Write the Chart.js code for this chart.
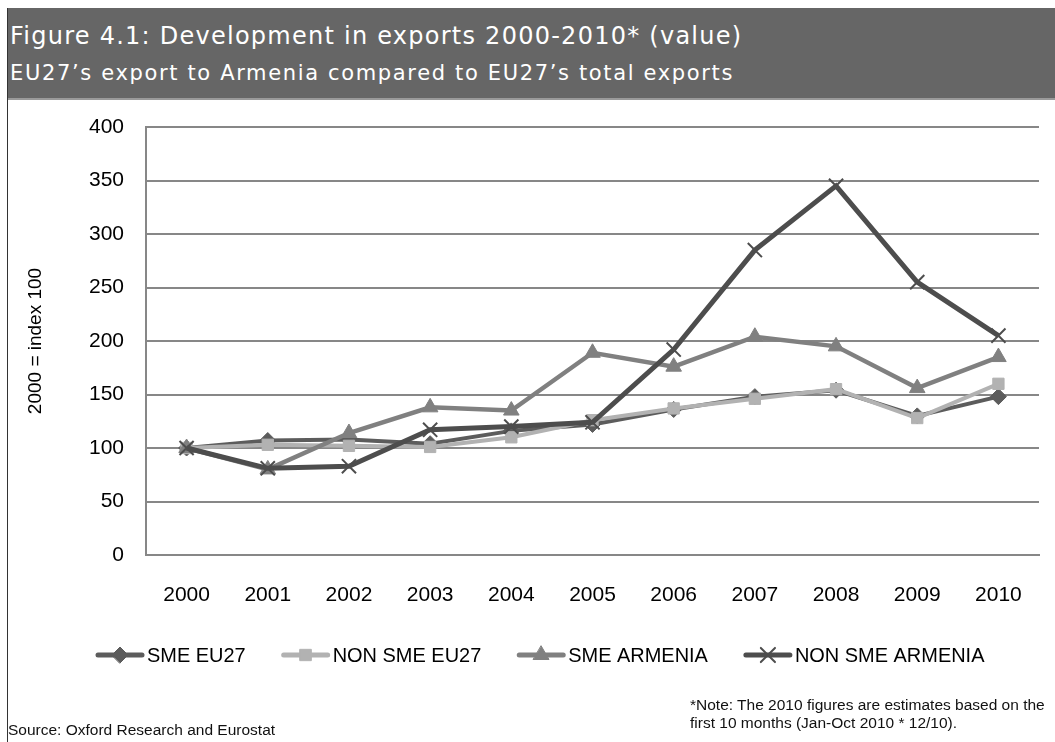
<!DOCTYPE html>
<html lang="en">
<head>
  <meta charset="UTF-8" />
  <title>Figure 4.1 - Development in exports 2000-2010</title>
  <script src="https://cdn.jsdelivr.net/npm/chart.js"></script>
  <style>
    html, body { margin: 0; padding: 0; background: #fff; }
    body { width: 1055px; height: 742px; position: relative; overflow: hidden; font-family: 'Liberation Sans', Arial, sans-serif; }
    #chart { position: absolute; left: 0; top: 0; }
    .header {
      position: absolute; left: 8px; top: 8px; right: 0; height: 90px;
      background: #666666; border-bottom: 2px solid #9a9a9a;
      color: #fff; font-family: 'DejaVu Sans', Verdana, sans-serif;
    }
    .header .t1 { position: absolute; left: 2px; top: 14px; font-size: 24px; letter-spacing: 1.25px; white-space: nowrap; }
    .header .t2 { position: absolute; left: 2px; top: 53px; font-size: 21px; letter-spacing: 1.65px; white-space: nowrap; }
    .frame { position: absolute; left: 7px; top: 8px; width: 1px; height: 734px; background: #333; }
    .source { position: absolute; left: 8px; top: 721px; font-size: 15.5px; color: #111; white-space: nowrap; }
    .note { position: absolute; left: 690px; top: 696px; font-size: 15.5px; line-height: 18px; color: #111; white-space: nowrap; }
  </style>
</head>
<body>
<canvas id="chart" width="1055" height="742"></canvas>
<div class="frame"></div>
<div class="header">
  <div class="t1">Figure 4.1: Development in exports 2000-2010* (value)</div>
  <div class="t2">EU27’s export to Armenia compared to EU27’s total exports</div>
</div>
<div class="note">*Note: The 2010 figures are estimates based on the<br>first 10 months (Jan-Oct 2010 * 12/10).</div>
<div class="source">Source: Oxford Research and Eurostat</div>

<script>
  // data (2000 = index 100)
  const years = ['2000', '2001', '2002', '2003', '2004', '2005', '2006', '2007', '2008', '2009', '2010'];
  const smeEu27 = [100, 107, 108, 104, 116, 122, 136, 148, 154, 130, 148];
  const nonSmeEu27 = [100, 103, 102, 101, 110, 126, 137, 146, 155, 128, 160];
  const smeArmenia = [100, 80, 114, 138, 135, 189, 176, 204, 195, 156, 185];
  const nonSmeArmenia = [100, 81, 83, 117, 120, 124, 192, 285, 345, 255, 205];
  const seriesNames = ['SME EU27', 'NON SME EU27', 'SME ARMENIA', 'NON SME ARMENIA'];
  const yTicks = [0, 50, 100, 150, 200, 250, 300, 350, 400];

  const gridGray = '#878787';
  const tickFont = { family: "'Liberation Sans', Arial, sans-serif", size: 21 };

  function drawMarker(ctx, ds, x, y) {
    const opts = {
      pointStyle: ds.pointStyle,
      radius: ds.pointRadius,
      borderWidth: ds.pointBorderWidth
    };
    ctx.save();
    ctx.fillStyle = ds.pointBackgroundColor;
    ctx.strokeStyle = ds.pointBorderColor;
    ctx.lineWidth = ds.pointBorderWidth;
    Chart.helpers.drawPoint(ctx, opts, x, y);
    ctx.restore();
  }

  // legend: line with marker in the middle, text a bit narrow like the original
  const lineLegend = {
    id: 'lineLegend',
    afterDraw(chart) {
      const ctx = chart.ctx;
      const y = 655;
      const lineLen = 48;
      const squeeze = 0.95;
      let x = 96;
      ctx.save();
      ctx.font = "21px 'Liberation Sans', Arial, sans-serif";
      ctx.textBaseline = 'middle';
      chart.data.datasets.forEach(ds => {
        ctx.strokeStyle = ds.borderColor;
        ctx.lineWidth = 5;
        ctx.lineCap = 'round';
        ctx.beginPath();
        ctx.moveTo(x + 2, y);
        ctx.lineTo(x + lineLen - 2, y);
        ctx.stroke();
        drawMarker(ctx, ds, x + lineLen / 2, y);
        const tx = x + lineLen + 3;
        ctx.save();
        ctx.translate(tx, y + 1);
        ctx.scale(squeeze, 1);
        ctx.fillStyle = '#000';
        ctx.fillText(ds.label, 0, 0);
        ctx.restore();
        x = tx + ctx.measureText(ds.label).width * squeeze + 36;
      });
      ctx.restore();
    }
  };

  function series(label, values, color, style, radius, order, width) {
    return {
      label: label,
      data: values,
      borderColor: color,
      backgroundColor: color,
      borderWidth: width,
      pointStyle: style,
      pointRadius: radius,
      pointHoverRadius: radius,
      pointBackgroundColor: color,
      pointBorderColor: color,
      pointBorderWidth: style === 'crossRot' ? 2 : 1,
      tension: 0,
      order: order
    };
  }

  new Chart(document.getElementById('chart'), {
    type: 'line',
    data: {
      labels: years,
      datasets: [
        series(seriesNames[0], smeEu27, '#5c5c5c', 'rectRot', 8, 4, 4),
        series(seriesNames[1], nonSmeEu27, '#b2b2b2', 'rect', 8, 3, 4),
        series(seriesNames[2], smeArmenia, '#808080', 'triangle', 9, 2, 4.5),
        series(seriesNames[3], nonSmeArmenia, '#4d4d4d', 'crossRot', 10, 1, 5)
      ]
    },
    options: {
      responsive: false,
      animation: false,
      devicePixelRatio: 1,
      layout: { padding: { top: 127, right: 16, bottom: 0, left: 0 } },
      plugins: {
        legend: { display: false },
        tooltip: { enabled: false }
      },
      scales: {
        x: {
          offset: true,
          grid: { display: false, drawTicks: false },
          border: { display: true, color: gridGray, width: 2 },
          ticks: { color: '#000', font: tickFont, padding: 28, maxRotation: 0 },
          afterFit(scale) { scale.height = 187; }
        },
        y: {
          min: 0,
          max: 400,
          afterBuildTicks(scale) { scale.ticks = yTicks.map(v => ({ value: v })); },
          grid: { color: gridGray, lineWidth: 2, drawTicks: false },
          border: { display: true, color: gridGray, width: 2 },
          ticks: { color: '#000', font: tickFont, padding: 22 },
          title: {
            display: true,
            text: '2000 = index 100',
            color: '#000',
            font: { family: "'Liberation Sans', Arial, sans-serif", size: 19 },
            padding: { top: 24, bottom: 0 }
          },
          afterFit(scale) { scale.width = 146; }
        }
      }
    },
    plugins: [lineLegend]
  });
</script>
</body>
</html>
